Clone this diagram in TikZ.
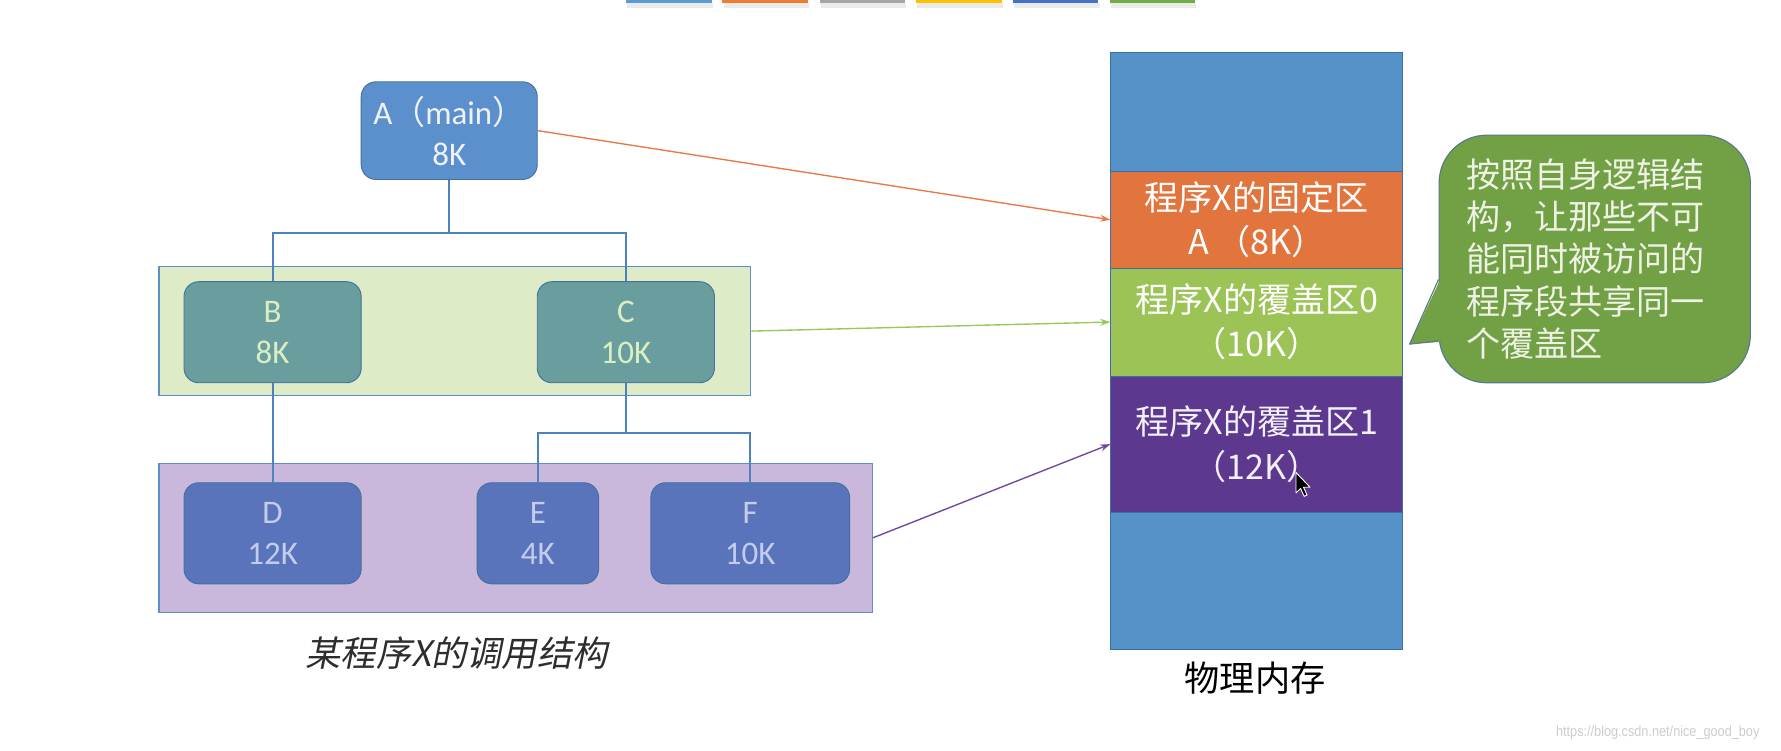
\documentclass[tikz,border=0pt]{standalone}
\usepackage{fontspec}
\setmainfont{Carlito}
\newfontfamily\cjk{Noto Sans CJK SC}
\newfontfamily\cjkit[FakeSlant=0.2]{Noto Sans CJK SC}
\newfontfamily\wmfont{Liberation Sans}
\usetikzlibrary{arrows.meta,calc}
\definecolor{afill}{RGB}{91,144,205}
\definecolor{aline}{RGB}{65,113,156}
\definecolor{atext}{RGB}{238,242,250}
\definecolor{treeline}{RGB}{78,130,190}
\definecolor{gpfill}{RGB}{221,235,199}
\definecolor{ppfill}{RGB}{201,184,220}
\definecolor{panelline}{RGB}{91,143,201}
\definecolor{bcfill}{RGB}{106,158,158}
\definecolor{bctext}{RGB}{218,238,196}
\definecolor{deffill}{RGB}{89,116,187}
\definecolor{deftext}{RGB}{196,204,236}
\definecolor{memblue}{RGB}{85,146,200}
\definecolor{memorange}{RGB}{226,116,62}
\definecolor{memgreen}{RGB}{155,195,85}
\definecolor{mempurple}{RGB}{92,57,142}
\definecolor{memline}{RGB}{62,110,168}
\definecolor{notefill}{RGB}{114,160,68}
\definecolor{noteline}{RGB}{88,122,140}
\definecolor{notetext}{RGB}{238,242,228}
\definecolor{arrorange}{RGB}{232,120,70}
\definecolor{arrgreen}{RGB}{150,200,90}
\definecolor{arrpurple}{RGB}{112,70,160}
\definecolor{captext}{RGB}{45,45,45}
\definecolor{wmgray}{RGB}{205,205,205}
\definecolor{stripblue}{RGB}{91,155,213}
\definecolor{striporange}{RGB}{237,125,49}
\definecolor{stripgray}{RGB}{165,165,165}
\definecolor{stripyellow}{RGB}{255,192,0}
\definecolor{stripdblue}{RGB}{68,114,196}
\definecolor{stripgreen}{RGB}{112,173,71}
\begin{document}
\begin{tikzpicture}[x=1pt,y=-1pt,
  treebox/.style={draw=aline, line width=0.8pt, rounded corners=13pt, inner sep=0pt, align=center,
    minimum height=89pt, font=\fontsize{29}{36}\selectfont},
  panel/.style={draw=panelline, line width=1pt, inner sep=0pt},
  memseg/.style={draw=memline, line width=0.8pt, minimum width=257pt, inner sep=0pt, align=center,
    font=\cjk\fontsize{30}{39}\selectfont},
  treelink/.style={draw=treeline, line width=1.7pt},
  maplink/.style={line width=1.2pt, -{Stealth[length=9pt,width=6pt]}}
]
\useasboundingbox (0,0) rectangle (1568,661);
\fill[white] (0,0) rectangle (1568,661);

% top theme strips
\foreach \xa/\xb/\cc in {551/627/stripblue,636/711/striporange,722/797/stripgray,806/882/stripyellow,892/967/stripdblue,977/1052/stripgreen}{
  \fill[black!8] (\xa+1,3) rectangle (\xb+1,7);
  \fill[\cc] (\xa,-2) rectangle (\xb,3);
}

% panels
\node[panel, fill=gpfill, minimum width=521pt, minimum height=113pt] (gp) at (400.5,291.5) {};
\node[panel, fill=ppfill, minimum width=628pt, minimum height=131pt] (pp) at (454,473.5) {};

% tree boxes
\node[treebox, fill=afill, text=atext, minimum width=155pt, minimum height=86pt] (A) at (395.5,115) {A{\cjk （}main{\cjk ）}\\8K};
\node[treebox, fill=bcfill, text=bctext, minimum width=156pt] (B) at (240,292.5) {B\\8K};
\node[treebox, fill=bcfill, text=bctext, minimum width=156pt] (C) at (551,292.5) {C\\10K};
\node[treebox, fill=deffill, text=deftext, minimum width=156pt] (D) at (240,469.5) {D\\12K};
\node[treebox, fill=deffill, text=deftext, minimum width=107pt] (E) at (473.5,469.5) {E\\4K};
\node[treebox, fill=deffill, text=deftext, minimum width=175pt] (F) at (660.5,469.5) {F\\10K};

% tree connectors
\coordinate (j1) at (395.5,205);
\coordinate (j2) at (551,381);
\draw[treelink] (A.south) -- (j1);
\draw[treelink] (B.north) |- (j1) -| (C.north);
\draw[treelink] (B.south) -- (D.north);
\draw[treelink] (C.south) -- (j2);
\draw[treelink] (E.north) |- (j2) -| (F.north);

\node[font=\cjkit\fontsize{31}{31}\selectfont, text=captext] (cap1) at (402,575) {某程序X的调用结构};

% memory column
\node[memseg, fill=memblue, minimum height=105pt] (m1) at (1106.5,98.5) {};
\node[memseg, fill=memorange, minimum height=85pt, text=white] (m2) at (1106.5,193.5) {程序X的固定区\\A （8K）};
\node[memseg, fill=memgreen, minimum height=95pt, text=white] (m3) at (1106.5,283.5) {程序X的覆盖区0\\（10K）};
\node[memseg, fill=mempurple, minimum height=120pt, text=white!92!mempurple] (m4) at (1106.5,391) {程序X的覆盖区1\\（12K）};
\node[memseg, fill=memblue, minimum height=121pt] (m5) at (1106.5,511.5) {};
\node[font=\cjk\fontsize{31}{31}\selectfont, text=black] (cap2) at (1105,597) {物理内存};

% mapping arrows
\draw[maplink, arrorange] (A.east) -- (m2.west);
\draw[maplink, arrgreen] (gp.east) -- (m3.west);
\draw[maplink, arrpurple] (pp.east) -- (m4.west);

% callout
\node[draw=noteline, fill=notefill, line width=1pt, rounded corners=42pt, minimum width=274pt, minimum height=218pt,
  inner sep=0pt, text width=226pt, align=left, text=notetext, font=\cjk\fontsize{30}{37}\selectfont] (note) at (1404,228)
  {按照自身逻辑结\\构，让那些不可\\能同时被访问的\\程序段共享同一\\个覆盖区};
\coordinate (tip) at (1241,303);
\fill[notefill] ($(note.west)+(2.5,16)$) -- (tip) -- ($(note.west)+(2.5,73)$) -- cycle;
\draw[noteline, line width=1pt, line join=round] ($(note.west)+(0,18)$) -- (tip) -- ($(note.west)+(0,72)$);

% mouse cursor
\coordinate (cur) at (1141,416);
\filldraw[fill=black, draw=white, line width=0.8pt, line join=round] (cur) -- ++(0,18) -- ++(4,-4) -- ++(3.2,7) -- ++(2.6,-1.2) -- ++(-3.2,-6.8) -- ++(5.8,0) -- cycle;

% watermark
\node[anchor=east, font=\wmfont\fontsize{13}{13}\selectfont, text=wmgray, xscale=0.86, transform shape] (wm) at (1552,645) {https://blog.csdn.net/nice\_good\_boy};
\end{tikzpicture}
\end{document}
